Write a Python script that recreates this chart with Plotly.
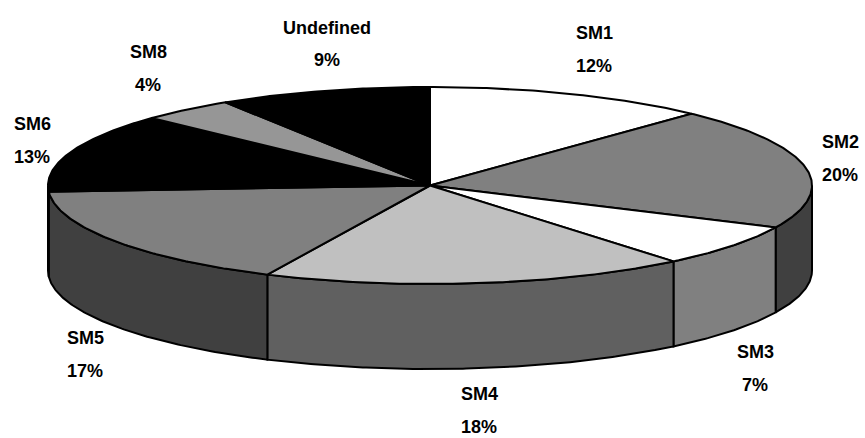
import numpy as np
import plotly.graph_objects as go

# Slice data, clockwise from twelve o'clock
categories = ["SM1", "SM2", "SM3", "SM4", "SM5", "SM6", "SM8", "Undefined"]
shares = [12, 20, 7, 18, 17, 13, 4, 9]

# Fill colours of the top faces and the outer walls
top_colors = ["#ffffff", "#808080", "#ffffff", "#c0c0c0", "#808080", "#000000", "#969696", "#000000"]
wall_colors = ["#606060", "#404040", "#808080", "#606060", "#404040", "#000000", "#606060", "#000000"]

# Centre of each two-line label, as (x, first line y, second line y)
label_places = [
    (594, 33, 66), (840, 142, 175), (755, 352, 385), (479, 394, 427),
    (85, 338, 371), (32, 124, 157), (148, 52, 85), (327, 28, 60),
]

WIDTH, HEIGHT = 865, 438
CX, CY = 430, 185.5      # ellipse centre of the top face
RX, RY = 382, 98.5       # ellipse radii
DEPTH = 85               # height of the disc
OUTLINE = dict(color="#000000", width=2)
FONT = dict(family="Liberation Sans Narrow, Arial Narrow, sans-serif", size=18, color="#000000")


def rim(start, end, drop=0.0):
    """Points along the ellipse between two angles in degrees, clockwise from the top."""
    steps = max(2, int(abs(end - start) * 2) + 1)
    t = np.radians(np.linspace(start, end, steps))
    return CX + RX * np.sin(t), CY - RY * np.cos(t) + drop


edges = np.concatenate([[0], np.cumsum(shares)]) / sum(shares) * 360
fig = go.Figure()

# Outer walls exist only on the front half of the disc (90 to 270 degrees)
for a, b, color in zip(edges[:-1], edges[1:], wall_colors):
    lo, hi = max(a, 90), min(b, 270)
    if lo >= hi:
        continue
    x_up, y_up = rim(lo, hi)
    x_dn, y_dn = rim(hi, lo, DEPTH)
    fig.add_trace(go.Scatter(
        x=np.concatenate([x_up, x_dn, x_up[:1]]),
        y=np.concatenate([y_up, y_dn, y_up[:1]]),
        mode="lines", fill="toself", fillcolor=color, line=OUTLINE, hoverinfo="skip",
    ))

# Top faces as wedges from the centre
for a, b, color in zip(edges[:-1], edges[1:], top_colors):
    x_arc, y_arc = rim(a, b)
    fig.add_trace(go.Scatter(
        x=np.concatenate([[CX], x_arc, [CX]]),
        y=np.concatenate([[CY], y_arc, [CY]]),
        mode="lines", fill="toself", fillcolor=color, line=OUTLINE, hoverinfo="skip",
    ))

# Category name above its percentage
for name, share, (x, y1, y2) in zip(categories, shares, label_places):
    for y, text in ((y1, f"<b>{name}</b>"), (y2, f"<b>{share}%</b>")):
        fig.add_annotation(x=x, y=y, text=text, showarrow=False, font=FONT,
                           xanchor="center", yanchor="middle")

fig.update_layout(
    width=WIDTH, height=HEIGHT, margin=dict(l=0, r=0, t=0, b=0),
    paper_bgcolor="#ffffff", plot_bgcolor="#ffffff", showlegend=False,
    xaxis=dict(range=[0, WIDTH], visible=False, fixedrange=True),
    yaxis=dict(range=[HEIGHT, 0], visible=False, fixedrange=True),
)
fig.write_html("out.html", config=dict(displayModeBar=False))
